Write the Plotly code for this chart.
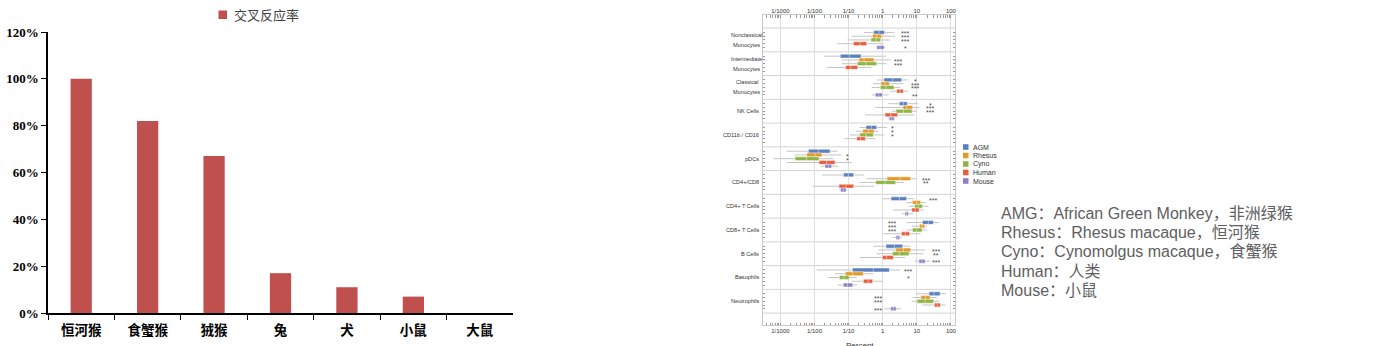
import numpy as np
import plotly.graph_objects as go

W, H = 1399, 346

# ---------------- cross-reactivity bar chart ----------------
bar_species = ["恒河猴", "食蟹猴", "狨猴", "兔", "犬", "小鼠", "大鼠"]
bar_rate = [1.00, 0.82, 0.67, 0.17, 0.11, 0.07, 0.0]
bar_legend = "交叉反应率"

# ---------------- immune cell frequency box plots ----------------
cell_label_lines = [
    ["Nonclassical", "Monocytes"],
    ["Intermediate", "Monocytes"],
    ["Classical", "Monocytes"],
    ["NK Cells"],
    ["CD11b / CD16"],
    ["pDCs"],
    ["CD4+/CD8"],
    ["CD4+ T Cells"],
    ["CD8+ T Cells"],
    ["B Cells"],
    ["Basophils"],
    ["Neutrophils"],
]
box_species = ["AGM", "Rhesus", "Cyno", "Human", "Mouse"]
box_colors = ["#5b80bf", "#e39a2d", "#8fb446", "#e95d3b", "#8c7fc5"]

# (lower whisker, q1, median, q3, upper whisker) in percent, one row per cell type
agm_stats = [
    (0.284, 0.545, 0.78, 1.12, 2.2),
    (0.019, 0.057, 0.105, 0.232, 1.22),
    (0.682, 1.09, 1.96, 3.61, 5.53),
    (1.43, 3.08, 4.04, 5.29, 11.1),
    (0.207, 0.324, 0.465, 0.667, 1.31),
    (0.00153, 0.0066, 0.013, 0.0286, 0.0469),
    (0.017, 0.0703, 0.0985, 0.141, 0.29),
    (0.978, 1.76, 3.08, 5.05, 8.3),
    (5.05, 14.6, 21.8, 30.6, 44.9),
    (0.532, 1.25, 2.2, 3.86, 6.48),
    (0.0116, 0.129, 0.532, 1.57, 3.22),
    (9.5, 22.8, 32.0, 48.0, 70.4),
]
rhesus_stats = [
    (0.123, 0.50, 0.667, 0.935, 2.3),
    (0.063, 0.202, 0.284, 0.557, 1.72),
    (0.521, 0.894, 1.17, 1.57, 4.04),
    (0.6, 3.95, 5.05, 7.58, 11.9),
    (0.165, 0.259, 0.38, 0.557, 0.764),
    (0.00257, 0.0059, 0.0104, 0.0166, 0.0628),
    (0.34, 1.34, 3.22, 6.62, 9.5),
    (5.05, 7.41, 9.93, 13.0, 18.2),
    (7.09, 11.9, 14.2, 17.1, 19.5),
    (0.746, 2.41, 4.04, 6.62, 17.8),
    (0.040, 0.0804, 0.132, 0.271, 0.532),
    (7.58, 13.3, 18.2, 24.4, 38.3),
]
cyno_stats = [
    (0.092, 0.455, 0.64, 0.875, 1.64),
    (0.064, 0.181, 0.324, 0.667, 1.31),
    (0.475, 0.855, 1.25, 2.15, 3.22),
    (1.84, 2.46, 4.04, 7.25, 9.93),
    (0.110, 0.212, 0.324, 0.532, 1.09),
    (0.00062, 0.0027, 0.0059, 0.0136, 0.0357),
    (0.207, 0.624, 1.17, 2.41, 4.22),
    (5.66, 8.67, 11.1, 14.6, 21.8),
    (5.05, 7.41, 9.93, 14.2, 19.5),
    (0.667, 1.92, 3.08, 5.92, 15.9),
    (0.0255, 0.0536, 0.0735, 0.105, 0.173),
    (7.09, 10.2, 17.4, 31.3, 44.9),
]
human_stats = [
    (0.045, 0.138, 0.216, 0.34, 1.05),
    (0.0233, 0.082, 0.115, 0.185, 0.475),
    (1.64, 2.57, 3.22, 4.04, 5.66),
    (0.303, 1.17, 1.72, 2.75, 8.49),
    (0.0735, 0.173, 0.226, 0.31, 0.596),
    (0.00153, 0.0136, 0.0228, 0.040, 0.123),
    (0.00865, 0.0524, 0.084, 0.141, 0.557),
    (2.05, 7.09, 8.87, 11.6, 16.3),
    (1.05, 3.53, 4.62, 6.19, 13.0),
    (0.216, 0.978, 1.31, 2.05, 4.52),
    (0.123, 0.271, 0.38, 0.509, 1.05),
    (14.6, 32.7, 40.1, 49.1, 70.4),
]
mouse_stats = [
    (0.65, 0.68, 0.835, 1.09, 1.17),
    None,
    (0.475, 0.61, 0.764, 0.978, 1.47),
    (1.40, 1.57, 1.84, 2.15, 2.30),
    None,
    (0.0152, 0.0204, 0.0255, 0.0319, 0.050),
    (0.0536, 0.0586, 0.0703, 0.084, 0.092),
    (3.61, 4.52, 5.05, 5.66, 7.93),
    (1.96, 2.46, 2.75, 3.15, 3.61),
    (8.87, 11.6, 14.2, 17.4, 24.4),
    (0.0469, 0.0703, 0.092, 0.132, 0.181),
    (1.09, 1.72, 2.05, 2.46, 3.37),
]

# significance marks vs. human, column x position (percent) per cell type
star_x = [4.6, 2.8, 8.9, 24.4, 1.9, 0.092, 19.0, 29.0, 1.9, 36.6, 5.6, 0.74]
star_marks = [
    ["***", "***", "***", "", "*"],
    ["", "***", "***", "", ""],
    ["*", "***", "***", "", "**"],
    ["*", "***", "***", "", ""],
    ["*", "*", "*", "", ""],
    ["", "*", "*", "", ""],
    ["", "***", "**", "", ""],
    ["***", "", "", "", ""],
    ["***", "***", "***", "", ""],
    ["", "***", "**", "", "***"],
    ["***", "", "*", "", ""],
    ["", "***", "***", "", "***"],
]

decade_vals = [0.001, 0.01, 0.1, 1, 10, 100]
decade_text = ["1/1000", "1/100", "1/10", "1", "10", "100"]

# species abbreviations explained on the right
note_lines = [
    "AMG：African Green Monkey，非洲绿猴",
    "Rhesus：Rhesus macaque，恒河猴",
    "Cyno：Cynomolgus macaque，食蟹猴",
    "Human：人类",
    "Mouse：小鼠",
]


def px(x):
    return x / W


def py(y):
    return 1 - y / H


all_stats = [agm_stats, rhesus_stats, cyno_stats, human_stats, mouse_stats]
row_step = 0.158

fig = go.Figure()

fig.add_trace(go.Bar(
    x=bar_species, y=bar_rate, width=0.32, name=bar_legend,
    marker=dict(color="#c0504d", line=dict(width=0)),
    xaxis="x", yaxis="y", showlegend=False,
))

for j, (sp, col, stats) in enumerate(zip(box_species, box_colors, all_stats)):
    ys, lw, q1, med, q3, uw = [], [], [], [], [], []
    wx, wy = [], []
    for i, s in enumerate(stats):
        if s is None:
            continue
        yy = i + 0.5 + (j - 2) * row_step
        ys.append(yy)
        lw.append(s[0]); q1.append(s[1]); med.append(s[2]); q3.append(s[3]); uw.append(s[4])
        wx += [s[0], s[1], None, s[3], s[4], None]
        wy += [yy, yy, None, yy, yy, None]
    fig.add_trace(go.Box(
        y=ys, lowerfence=lw, q1=q1, median=med, q3=q3, upperfence=uw,
        orientation="h", width=0.16, whiskerwidth=0,
        fillcolor=col, line=dict(color="rgba(255,255,255,0.75)", width=0.6),
        name=sp, xaxis="x2", yaxis="y2", showlegend=False, boxpoints=False,
    ))
    fig.add_trace(go.Scatter(
        x=wx, y=wy, mode="lines", line=dict(color="#c4c4c4", width=1),
        xaxis="x2", yaxis="y2", showlegend=False, hoverinfo="skip",
    ))

annotations = []
shapes = []

# bar chart legend
shapes.append(dict(type="rect", xref="paper", yref="paper",
                   x0=px(218.5), x1=px(227), y0=py(19), y1=py(10.5),
                   fillcolor="#c0504d", line=dict(width=0)))
annotations.append(dict(text=bar_legend, xref="paper", yref="paper",
                        x=px(232), y=py(14.5), xanchor="left", yanchor="middle",
                        showarrow=False,
                        font=dict(family="Noto Sans CJK SC", size=13, color="#404040")))

# cell-type labels
label_font = dict(family="Liberation Sans, Arial", size=5.6, color="#333333")
for i, lines in enumerate(cell_label_lines):
    if len(lines) == 1:
        annotations.append(dict(text=lines[0], xref="paper", yref="y2", x=px(760.5), y=i + 0.5,
                                xanchor="right", yanchor="middle", showarrow=False, font=label_font))
    else:
        for k, t in enumerate(lines):
            annotations.append(dict(text=t, xref="paper", yref="y2", x=px(746.5), y=i + 0.5,
                                    yshift=5 - 10 * k, xanchor="center", yanchor="middle",
                                    showarrow=False, font=label_font))

# significance stars
for i, marks in enumerate(star_marks):
    for j, m in enumerate(marks):
        if not m:
            continue
        annotations.append(dict(text=m, xref="x2", yref="y2", x=np.log10(star_x[i]),
                                y=i + 0.5 + (j - 2) * row_step, yshift=-1.4,
                                xanchor="center", yanchor="middle", showarrow=False,
                                font=dict(family="Liberation Sans, Arial", size=7, color="#4a4a4a")))

# group separators
for b in range(13):
    shapes.append(dict(type="line", xref="x2 domain", yref="y2", x0=0, x1=1, y0=b, y1=b,
                       line=dict(color="#d4d4d4", width=1), layer="below"))

# species legend for box plots
leg_y = [147, 155.5, 164, 172.5, 181]
for sp, col, yy in zip(box_species, box_colors, leg_y):
    shapes.append(dict(type="rect", xref="paper", yref="paper",
                       x0=px(963), x1=px(968.5), y0=py(yy + 2.8), y1=py(yy - 2.8),
                       fillcolor=col, line=dict(width=0)))
    annotations.append(dict(text=sp, xref="paper", yref="paper", x=px(970.5), y=py(yy),
                            xanchor="left", yanchor="middle", showarrow=False,
                            font=dict(family="Liberation Sans, Arial", size=7, color="#333333")))

# x-axis title of the box panel
annotations.append(dict(text="Percent", xref="paper", yref="paper", x=px(860), y=py(339),
                        xanchor="center", yanchor="top", showarrow=False,
                        font=dict(family="Liberation Sans, Arial", size=8, color="#333333")))

# abbreviation notes
note_y = [213, 232.3, 251.6, 271, 290.3]
for t, yy in zip(note_lines, note_y):
    annotations.append(dict(text=t, xref="paper", yref="paper", x=px(999), y=py(yy),
                            xanchor="left", yanchor="middle", showarrow=False,
                            font=dict(family="Liberation Sans, Noto Sans CJK SC", size=16,
                                      color="#606060")))

row_positions = [i + 0.5 + (j - 2) * row_step for i in range(12) for j in range(5)]
log_axis_common = dict(
    type="log", range=[-3.51, 2.12], tickmode="array", tickvals=decade_vals,
    ticktext=decade_text, showgrid=True, gridcolor="#dedede", gridwidth=1,
    zeroline=False, ticks="", automargin=False,
    tickfont=dict(family="Liberation Sans, Arial", size=6, color="#333333"),
    minor=dict(dtick="D1", ticks="inside", ticklen=2.5, tickcolor="#9a9a9a", showgrid=False),
)

fig.update_layout(
    width=W, height=H, margin=dict(l=0, r=0, t=0, b=0, autoexpand=False),
    paper_bgcolor="white", plot_bgcolor="rgba(0,0,0,0)",
    showlegend=False,
    xaxis=dict(domain=[px(48), px(513)], anchor="y", type="category", automargin=False,
               showline=True, linecolor="black", linewidth=1.5,
               ticks="outside", ticklen=5, tickcolor="black", tickwidth=1.3,
               tickson="boundaries", showgrid=False, zeroline=False, ticklabelstandoff=4,
               tickfont=dict(family="Noto Sans CJK SC", size=13.5, color="black", weight="bold")),
    yaxis=dict(domain=[py(313), py(32)], anchor="x", range=[0, 1.2], dtick=0.2,
               tickformat=".0%", automargin=False,
               showline=True, linecolor="black", linewidth=1.5,
               ticks="outside", ticklen=5, tickcolor="black", tickwidth=1.3,
               showgrid=False, zeroline=False,
               tickfont=dict(family="Liberation Serif, Times New Roman", size=13,
                             color="black", weight="bold")),
    xaxis2=dict(domain=[px(763), px(955)], anchor="y2",
                showline=True, linecolor="#c8c8c8", linewidth=1, mirror=True,
                **log_axis_common),
    xaxis3=dict(overlaying="x2", anchor="y2", side="top", matches="x2",
                showline=False, **log_axis_common),
    yaxis2=dict(domain=[py(325), py(15)], anchor="x2", range=[12.5, -0.55],
                tickmode="array", tickvals=[i + 0.5 for i in range(12)], showticklabels=False,
                ticks="", showgrid=False, zeroline=False, automargin=False,
                showline=True, linecolor="#c8c8c8", linewidth=1, mirror="ticks",
                minor=dict(tickmode="array", tickvals=row_positions, ticks="inside",
                           ticklen=2, tickcolor="#9a9a9a", showgrid=False)),
    annotations=annotations,
    shapes=shapes,
)

# an invisible point on the top axis so it renders
fig.add_trace(go.Scatter(x=[1], y=[-10], mode="markers", marker=dict(opacity=0),
                         xaxis="x3", yaxis="y2", showlegend=False, hoverinfo="skip"))

fig.write_html("out.html")
